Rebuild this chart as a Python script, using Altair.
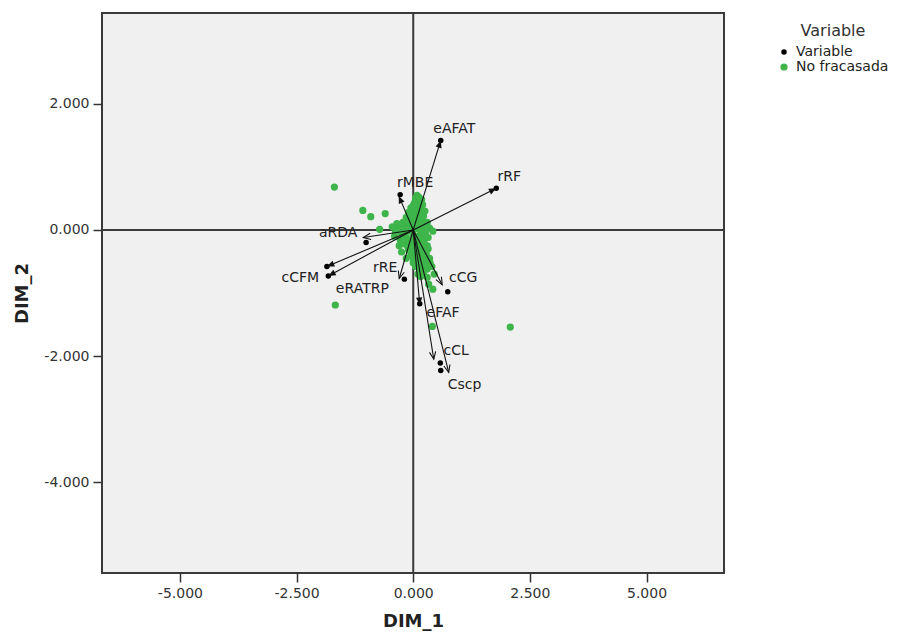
import altair as alt
import pandas as pd
import numpy as np

# ---- data ----
var_names = ["eAFAT", "rRF", "rMBE", "aRDA", "cCFM", "eRATRP", "rRE", "cCG", "eFAF", "cCL", "Cscp"]
tip_x = [0.59, 1.78, -0.31, -1.07, -1.85, -1.82, -0.30, 0.62, 0.14, 0.44, 0.76]
tip_y = [1.42, 0.66, 0.54, -0.12, -0.58, -0.73, -0.77, -0.87, -1.19, -2.05, -2.26]
head_kind = ["filled", "filled", "filled", "open", "filled", "filled", "open", "open", "filled", "open", "open"]
var_pt_x = [0.59, 1.78, -0.28, -1.01, -1.85, -1.82, -0.19, 0.74, 0.14, 0.58, 0.59]
var_pt_y = [1.42, 0.66, 0.56, -0.20, -0.58, -0.73, -0.78, -0.98, -1.17, -2.11, -2.23]
label_x = [0.88, 2.06, 0.04, -1.61, -2.42, -1.09, -0.60, 1.07, 0.64, 0.92, 1.10]
label_y = [1.60, 0.84, 0.75, -0.05, -0.76, -0.94, -0.60, -0.76, -1.32, -1.92, -2.46]

green_x = [0.05, 0.12, 0.18, 0.02, 0.10, 0.20, -0.05, 0.08, 0.16, 0.25, -0.10, 0.02, 0.12, 0.22,
           -0.15, 0.00, 0.10, 0.20, 0.30,
           -0.45, -0.35, -0.30, -0.25, -0.20, -0.12, -0.05, 0.05, 0.15, 0.25, 0.35, 0.42,
           -0.40, -0.28, -0.15, 0.00, 0.10, 0.22, 0.32,
           -0.30, -0.18, -0.05, 0.08, 0.20, 0.30, -0.25, -0.10, 0.05, 0.18, 0.28,
           -0.15, 0.00, 0.12, 0.25, 0.35, 0.05, 0.18, 0.30, 0.10, 0.22, 0.40, 0.45,
           0.08, 0.15, 0.00, 0.06, 0.14, -0.08, 0.04, 0.12, 0.18, -0.20, -0.10, 0.06, 0.16,
           -0.35, -0.22, -0.08, 0.08, 0.30, -0.38, -0.22, -0.02, 0.16, 0.26,
           -0.20, -0.08, 0.02, 0.14, 0.24, -0.12, 0.00, 0.10, 0.20, 0.32,
           -0.05, 0.06, 0.16, 0.26, 0.00, 0.12, 0.24, 0.36, 0.14, 0.28, 0.16, 0.30,
           -1.69, -1.08, -0.91, -0.60, -0.72, -1.67, 2.08, 0.41, 0.33, 0.42]
green_y = [0.50, 0.52, 0.48, 0.42, 0.44, 0.40, 0.35, 0.36, 0.33, 0.30, 0.28, 0.27, 0.25, 0.22,
           0.20, 0.18, 0.16, 0.15, 0.12,
           0.05, 0.00, 0.08, -0.05, 0.04, -0.02, 0.06, 0.02, 0.05, 0.00, 0.03, -0.02,
           -0.10, -0.15, -0.12, -0.08, -0.10, -0.08, -0.12,
           -0.25, -0.22, -0.20, -0.22, -0.20, -0.25, -0.35, -0.32, -0.35, -0.33, -0.38,
           -0.45, -0.45, -0.48, -0.50, -0.45, -0.58, -0.60, -0.62, -0.70, -0.68, -0.58, -0.70,
           0.55, 0.45, 0.38, 0.30, 0.38, 0.22, 0.22, 0.30, 0.25, 0.12, 0.10, 0.10, 0.08,
           0.10, 0.12, 0.12, 0.08, 0.06, -0.04, -0.05, -0.02, -0.02, -0.05,
           -0.08, -0.16, -0.14, -0.16, -0.15, -0.26, -0.28, -0.28, -0.27, -0.30,
           -0.40, -0.40, -0.40, -0.42, -0.52, -0.55, -0.55, -0.52, -0.64, -0.55, -0.74, -0.75,
           0.68, 0.31, 0.21, 0.26, 0.01, -1.19, -1.54, -1.53, -0.86, -0.94]

group_names = ["Variable", "No fracasada"]
x_ticks = [-5.0, -2.5, 0.0, 2.5, 5.0]
y_ticks = [-4.0, -2.0, 0.0, 2.0]

# ---- layout ----
X_DOM = [-6.67, 6.66]
Y_DOM = [-5.44, 3.44]
W, H = 622, 560
GREEN = "#3db54a"
FONT = "DejaVu Sans"

px_x = W / (X_DOM[1] - X_DOM[0])
px_y = H / (Y_DOM[1] - Y_DOM[0])

arrows = pd.DataFrame({"name": var_names, "x0": 0.0, "y0": 0.0, "x": tip_x, "y": tip_y, "kind": head_kind})
arrows["ang"] = (np.degrees(np.arctan2(arrows["x"] * px_x, arrows["y"] * px_y)) + 360) % 360

pts = pd.concat([
    pd.DataFrame({"x": green_x, "y": green_y, "grp": group_names[1]}),
    pd.DataFrame({"x": var_pt_x, "y": var_pt_y, "grp": group_names[0]}),
], ignore_index=True)
pts["ord"] = (pts["grp"] == group_names[0]).astype(int)

labels = pd.DataFrame({"name": var_names, "x": label_x, "y": label_y})
zero = pd.DataFrame({"v": [0.0]})

xs = alt.Scale(domain=X_DOM, nice=False, zero=False)
ys = alt.Scale(domain=Y_DOM, nice=False, zero=False)

LBL = "replace(format(datum.value, '.3f'), '\u2212', '-')"

x_axis = alt.Axis(values=x_ticks, labelExpr=LBL, title="DIM_1", grid=False, domain=False,
                  tickSize=9, tickColor="#333", tickWidth=1.5, labelPadding=4,
                  labelFont=FONT, labelFontSize=14, labelColor="#333",
                  titleFont=FONT, titleFontSize=18, titleFontWeight="bold", titleColor="#222",
                  titlePadding=12)
y_axis = alt.Axis(values=y_ticks, labelExpr=LBL, title="DIM_2", grid=False, domain=False,
                  tickSize=9, tickColor="#333", tickWidth=1.5, labelPadding=4,
                  labelFont=FONT, labelFontSize=14, labelColor="#333",
                  titleFont=FONT, titleFontSize=18, titleFontWeight="bold", titleColor="#222",
                  titlePadding=12)

base_x = alt.X("x:Q", scale=xs, axis=x_axis)
base_y = alt.Y("y:Q", scale=ys, axis=y_axis)

vline = alt.Chart(zero).mark_rule(color="#3a3a3a", strokeWidth=2).encode(x=alt.X("v:Q", scale=xs, axis=x_axis))
hline = alt.Chart(zero).mark_rule(color="#3a3a3a", strokeWidth=2).encode(y=alt.Y("v:Q", scale=ys, axis=y_axis))

shafts = alt.Chart(arrows).mark_rule(color="#111", strokeWidth=1.1).encode(
    x=alt.X("x0:Q", scale=xs, axis=x_axis), y=alt.Y("y0:Q", scale=ys, axis=y_axis),
    x2="x:Q", y2="y:Q")

filled_heads = alt.Chart(arrows).transform_filter(alt.datum.kind == "filled").mark_point(
    shape="M0,0 L-0.42,1 L0.42,1 Z", filled=True, color="#111", size=220, opacity=1
).encode(x=base_x, y=base_y, angle=alt.Angle("ang:Q", scale=None))

open_heads = alt.Chart(arrows).transform_filter(alt.datum.kind == "open").mark_point(
    shape="M-0.42,1 L0,0 L0.42,1", filled=False, color="#111", size=220, strokeWidth=1.1, opacity=1
).encode(x=base_x, y=base_y, angle=alt.Angle("ang:Q", scale=None))

points = alt.Chart(pts).mark_circle(opacity=1).encode(
    x=base_x, y=base_y,
    color=alt.Color("grp:N", scale=alt.Scale(domain=group_names, range=["#000000", GREEN]),
                    legend=alt.Legend(title="Variable", orient="none", legendX=675, legendY=10,
                                      titleFont=FONT, titleFontSize=16, titleFontWeight="normal",
                                      titleColor="#333", titleAnchor="middle", titlePadding=6,
                                      labelFont=FONT, labelFontSize=14, labelColor="#222",
                                      symbolType="circle", symbolSize=24, symbolStrokeWidth=0,
                                      rowPadding=1, labelOffset=5)),
    size=alt.Size("grp:N", scale=alt.Scale(domain=group_names, range=[30, 52]), legend=None),
    order=alt.Order("ord:Q"))

texts = alt.Chart(labels).mark_text(font=FONT, fontSize=14, color="#222", align="center", baseline="middle").encode(
    x=base_x, y=base_y, text="name:N")

chart = alt.layer(vline, hline, points, shafts, filled_heads, open_heads, texts).properties(
    width=W, height=H,
    autosize=alt.AutoSizeParams(type="none"),
    padding={"left": 102, "top": 13, "right": 183, "bottom": 62},
    background="white",
).configure_view(fill="#f0f0f0", stroke="#3a3a3a", strokeWidth=2)

chart.save("out.html", embed_options={"renderer": "svg", "actions": False})
